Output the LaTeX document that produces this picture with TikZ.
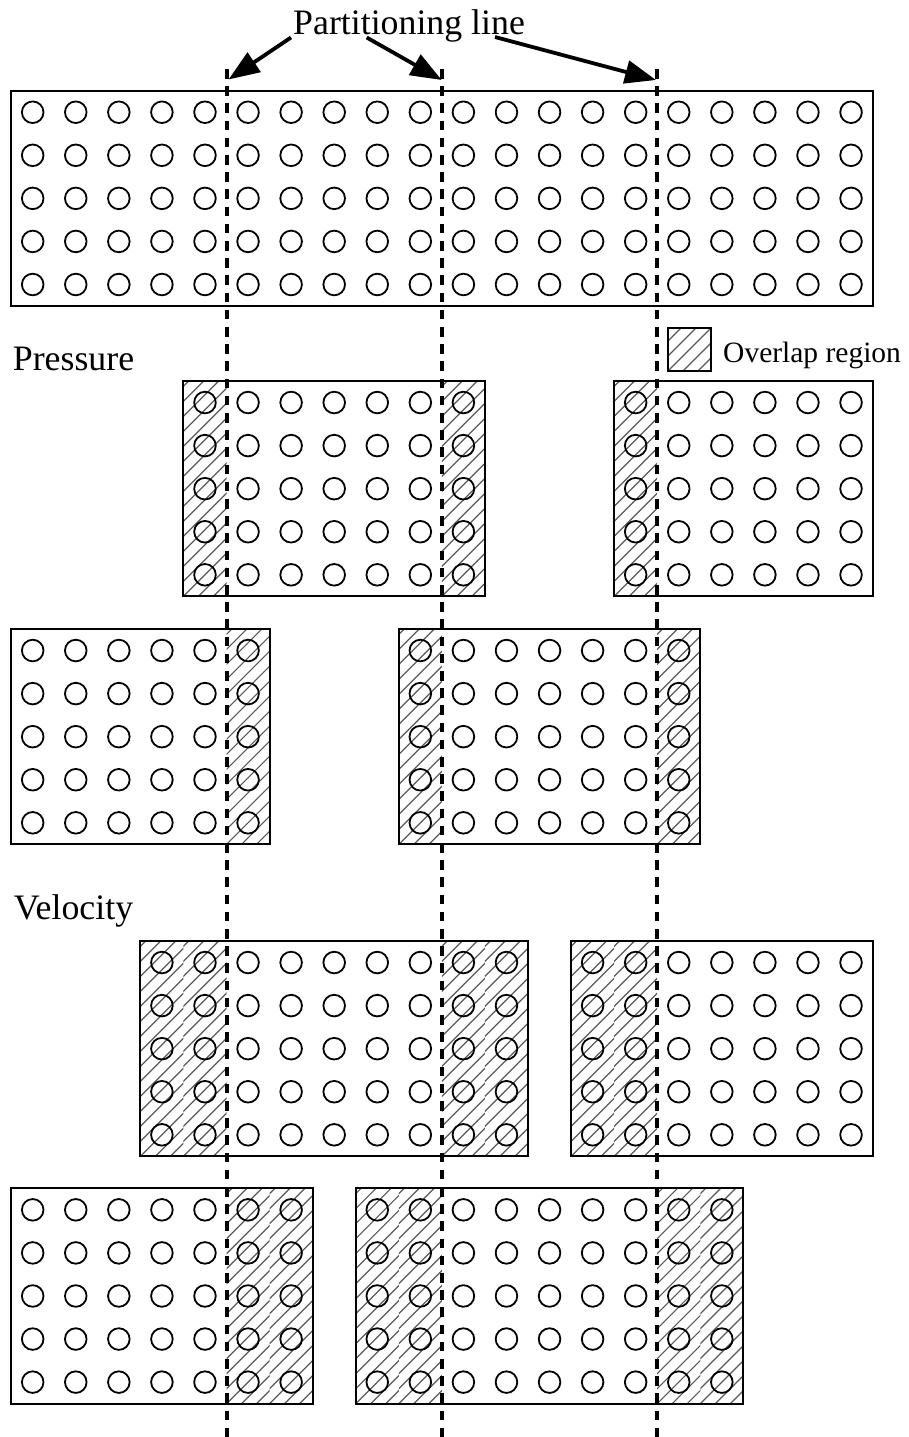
\documentclass[tikz,border=0pt]{standalone}
\usepackage{fontspec}
\setmainfont{Liberation Serif}
\usetikzlibrary{arrows.meta}
\tikzset{
  cellcirc/.style={line width=1.8pt},
  frame/.style={line width=2pt},
  hatchline/.style={line width=1.2pt, draw=black!65},
  partline/.style={line width=4pt, dash pattern=on 9.5pt off 7.7pt},
  pointer/.style={line width=3.8pt, -{Triangle[length=31pt,width=23pt]}},
  bigtext/.style={font=\fontsize{35.8pt}{40pt}\selectfont, inner sep=0pt, anchor=base west},
  smalltext/.style={font=\fontsize{29.5pt}{34pt}\selectfont, inner sep=0pt, anchor=base west},
}
% #1 top y, #2 first column, #3 last column
\newcommand\gridblock[3]{%
  \foreach \k in {#2,...,#3}{
    \foreach \r in {0,...,4}{
      \draw[cellcirc] (32.7+\k*43.07, #1+21.53+\r*43.07) circle[radius=10.8pt];
    }
  }
  \draw[frame] (11.17+#2*43.07, #1) rectangle (11.17+#3*43.07+43.07, #1+215.35);
}
% #1 top y, #2 list of hatched columns
\newcommand\hatchcols[2]{%
  \foreach \h in {#2}{
    \begin{scope}
      \clip (11.17+\h*43.07, #1) rectangle ++(43.07, 215.35);
      \foreach \c in {-225,-210,...,45}{
        \draw[hatchline] (11.17+\h*43.07+\c, #1+215.35) -- ++(300,-300);
      }
    \end{scope}
  }
}
\begin{document}
\begin{tikzpicture}[x=1pt,y=-1pt]
\useasboundingbox (0,0) rectangle (909,1437);

% title and arrows
\node[bigtext] (plabel) at (293,35) {Partitioning line};
\coordinate (s1) at (291,37.5);
\coordinate (s2) at (366.7,37.5);
\coordinate (s3) at (495,37);
\coordinate (t1) at (228.5,79.5);
\coordinate (t2) at (441.7,80);
\coordinate (t3) at (656,80);

% top block
\gridblock{90.7}{0}{19}

% labels
\node[bigtext] (pressure) at (12.7,370.7) {Pressure};
\node[bigtext] (velocity) at (13.6,919.3) {Velocity};

% legend
\begin{scope}
  \clip (668.3,327.6) rectangle (711.4,370.7);
  \foreach \c in {-45,-30,...,45}{
    \draw[hatchline] (668.3+\c,370.7) -- ++(100,-100);
  }
\end{scope}
\draw[frame] (668.3,327.6) rectangle (711.4,370.7);
\node[smalltext] (legendtext) at (723,362.5) {Overlap region};

% pressure blocks
\hatchcols{381}{4,10}
\gridblock{381}{4}{10}
\hatchcols{381}{14}
\gridblock{381}{14}{19}
\hatchcols{629}{5}
\gridblock{629}{0}{5}
\hatchcols{629}{9,15}
\gridblock{629}{9}{15}

% velocity blocks
\hatchcols{941}{3,4,10,11}
\gridblock{941}{3}{11}
\hatchcols{941}{13,14}
\gridblock{941}{13}{19}
\hatchcols{1188.3}{5,6}
\gridblock{1188.3}{0}{6}
\hatchcols{1188.3}{8,9,15,16}
\gridblock{1188.3}{8}{16}

% partitioning lines
\coordinate (p1a) at (226.5,69);
\coordinate (p1b) at (226.5,1437);
\coordinate (p2a) at (441.9,69);
\coordinate (p2b) at (441.9,1437);
\coordinate (p3a) at (657.2,69);
\coordinate (p3b) at (657.2,1437);
\draw[partline] (p1a) -- (p1b);
\draw[partline] (p2a) -- (p2b);
\draw[partline] (p3a) -- (p3b);

\draw[pointer] (s1) -- (t1);
\draw[pointer] (s2) -- (t2);
\draw[pointer] (s3) -- (t3);
\end{tikzpicture}
\end{document}
